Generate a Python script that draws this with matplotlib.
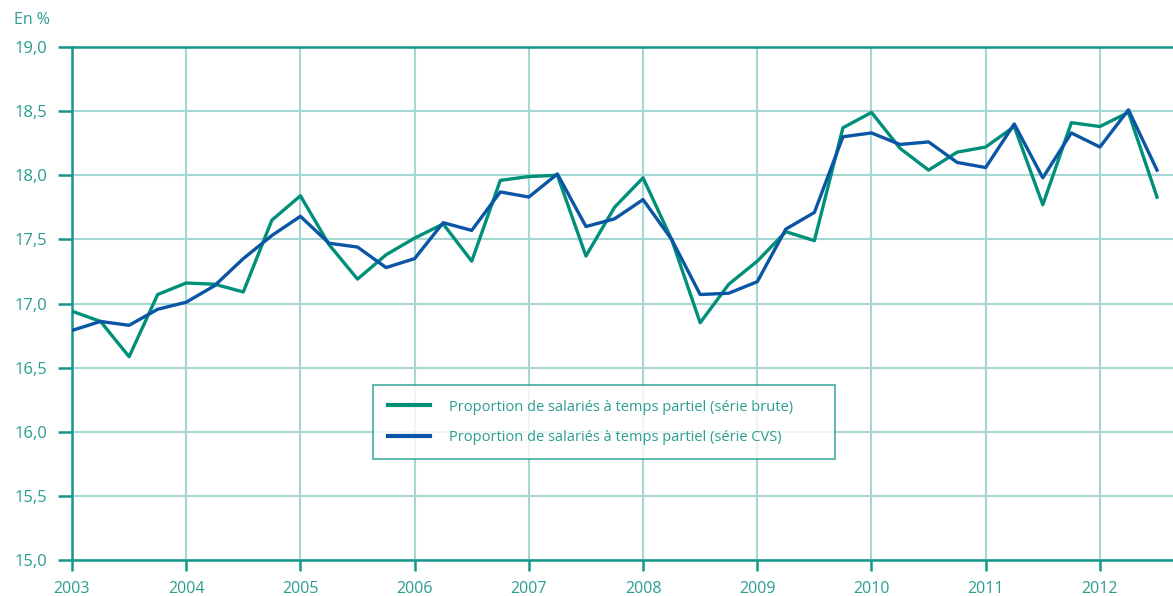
import matplotlib
matplotlib.use("Agg")
import matplotlib.pyplot as plt
import numpy as np

quarters = np.arange(2003.0, 2012.51, 0.25)
serie_brute = [16.94, 16.86, 16.585, 17.07, 17.16, 17.15, 17.09, 17.65,
               17.84, 17.46, 17.19, 17.38, 17.51, 17.62, 17.33, 17.96,
               17.99, 18.00, 17.37, 17.75, 17.98, 17.50, 16.85, 17.15,
               17.33, 17.56, 17.49, 18.37, 18.49, 18.21, 18.04, 18.18,
               18.22, 18.38, 17.77, 18.41, 18.38, 18.49, 17.83]
serie_cvs = [16.79, 16.86, 16.83, 16.955, 17.01, 17.14, 17.35, 17.53,
             17.68, 17.47, 17.44, 17.28, 17.35, 17.63, 17.57, 17.87,
             17.83, 18.01, 17.60, 17.66, 17.81, 17.50, 17.07, 17.08,
             17.17, 17.58, 17.71, 18.30, 18.33, 18.24, 18.26, 18.10,
             18.06, 18.40, 17.98, 18.33, 18.22, 18.51, 18.04]
year_ticks = list(range(2003, 2013))
y_ticks = [15.0, 15.5, 16.0, 16.5, 17.0, 17.5, 18.0, 18.5, 19.0]
labels = ["Proportion de salariés à temps partiel (série brute)",
          "Proportion de salariés à temps partiel (série CVS)"]

GREEN = "#00907A"
BLUE = "#0A55A5"
GRID = "#A5D8D2"
SPINE = "#16978A"
TEXT = "#2A9D8F"

plt.rcParams['font.family'] = ['Open Sans', 'DejaVu Sans']

fig = plt.figure(figsize=(11.73, 5.96), dpi=100)
ax = fig.add_axes([72/1173, 36/596, 1 - 72/1173, (560-47)/596])

ax.plot(quarters, serie_brute, color=GREEN, lw=2.4, label=labels[0], zorder=3)
ax.plot(quarters, serie_cvs, color=BLUE, lw=2.4, label=labels[1], zorder=4)

ax.set_xlim(2003, 2012.64)
ax.set_ylim(15.0, 19.0)
ax.set_xticks(year_ticks)
ax.set_xticklabels([str(y) for y in year_ticks])
ax.set_yticks(y_ticks)
ax.set_yticklabels([f"{v:.1f}".replace(".", ",") for v in y_ticks])

ax.grid(True, color=GRID, lw=1.5, zorder=0)
ax.set_axisbelow(True)
for s in ["left", "bottom", "top"]:
    ax.spines[s].set_color(SPINE)
    ax.spines[s].set_linewidth(1.8)
ax.spines["right"].set_visible(False)

ax.tick_params(axis="y", colors=SPINE, length=10, width=1.8, pad=8,
               labelcolor=TEXT, labelsize=12)
ax.tick_params(axis="x", colors=SPINE, length=8, width=1.8, pad=7,
               labelcolor=TEXT, labelsize=11.5)

fig.text(14/1173, 1 - 20/596, "En %", color=TEXT, fontsize=11.5,
         ha="left", va="center")

x0 = (373 - 72) / 1101
x1 = (835 - 72) / 1101
y_top = (560 - 385) / 513
y_bot = (560 - 461) / 513
leg = ax.legend(loc="upper left", bbox_to_anchor=(x0, y_bot, x1 - x0, y_top - y_bot),
                mode="expand",
                frameon=True, fancybox=False, edgecolor=SPINE, fontsize=10.5,
                handlelength=2.9, handletextpad=1.3, borderpad=1.0,
                labelspacing=1.05, borderaxespad=0)
leg.get_frame().set_linewidth(1.2)
for t in leg.get_texts():
    t.set_color(TEXT)
for l in leg.get_lines():
    l.set_linewidth(3)

fig.savefig("out.png", dpi=100)
